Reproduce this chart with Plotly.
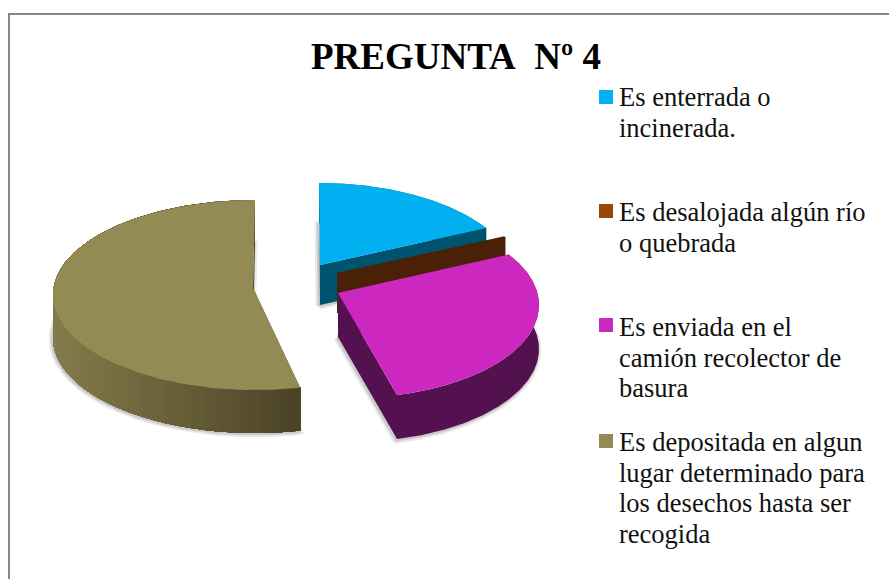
import numpy as np
import plotly.graph_objects as go

# ---- data (percent of answers) ----
categories = [
    "Es enterrada o<br>incinerada.",
    "Es desalojada algún río<br>o quebrada",
    "Es enviada en el<br>camión recolector de<br>basura",
    "Es depositada en algun<br>lugar determinado para<br>los desechos hasta ser<br>recogida",
]
values = [16, 1, 29, 54]
title_text = "PREGUNTA\u00a0 Nº 4"

top_colors = ["#00B0F0", "#4A2106", "#CC28C0", "#948A54"]
key_colors = ["#00B0F0", "#984807", "#CC28C0", "#948A54"]
side_left = ["#00536F", "#4A2106", "#53114F", "#857B4C"]
side_right = ["#00536F", "#4A2106", "#53114F", "#4A4225"]

# ---- drawing geometry (pixel space, one projected ellipse per exploded slice) ----
apex = [(320, 265), (337, 273), (338, 293), (253, 288)]
ell_c = [(319, 280), (337, 282), (350, 305), (255, 295)]
ell_r = [(198, 97), (192, 93), (189, 93), (202, 95)]
depth = [40, 40, 44, 43]
start_fix = [0, 3, -4, 1.5]
draw_order = [0, 1, 3, 2]
key_y = [97, 211, 325, 441]
first_line_y = [97, 212, 327, 442]
line_step = 30.7

cum = np.concatenate([[0], np.cumsum(values)]) / sum(values) * 360.0

fig = go.Figure()


def poly(xs, ys, color):
    fig.add_trace(go.Scatter(
        x=list(xs), y=list(ys), mode="lines", fill="toself",
        fillcolor=color, line=dict(color=color, width=0),
        hoverinfo="skip", showlegend=False))


def outline(xs, ys, color, width):
    fig.add_trace(go.Scatter(
        x=list(xs), y=list(ys), mode="lines",
        line=dict(color=color, width=width),
        hoverinfo="skip", showlegend=False))


def mix(a, b, t):
    ca = [int(a[i:i + 2], 16) for i in (1, 3, 5)]
    cb = [int(b[i:i + 2], 16) for i in (1, 3, 5)]
    return "rgb(%d,%d,%d)" % tuple(ca[k] + (cb[k] - ca[k]) * t for k in range(3))


for i in draw_order:
    th = np.radians(np.linspace(cum[i] + start_fix[i], cum[i + 1], 240))
    rx = ell_c[i][0] + ell_r[i][0] * np.sin(th)
    ry = ell_c[i][1] - ell_r[i][1] * np.cos(th)
    ax, ay = apex[i]
    d = depth[i]
    tx = np.concatenate([[ax], rx, [ax]])
    ty = np.concatenate([[ay], ry, [ay]])

    # soft shadow around the foot of the block
    if i != 1:
        outline(tx - 1, ty + d + 1, "rgba(90,90,90,0.12)", 7)
        outline(tx - 1, ty + d + 1, "rgba(90,90,90,0.22)", 3)

    # cut faces
    poly([ax, rx[0], rx[0], ax], [ay, ry[0], ry[0] + d, ay + d], side_right[i])
    poly([ax, rx[-1], rx[-1], ax], [ay, ry[-1], ry[-1] + d, ay + d], side_right[i])

    # rim: painted strip over strip from the dark end, so the shading has no seams
    xmin, xmax = rx.min(), rx.max()
    steps = 1 if side_left[i] == side_right[i] else 96
    for k in range(steps):
        end = len(th) - k * len(th) // steps
        xs, ys = rx[:end], ry[:end]
        t = (rx[end - 1] - xmin) / max(xmax - xmin, 1)
        c = mix(side_left[i], side_right[i], t)
        poly(np.concatenate([xs, xs[::-1]]), np.concatenate([ys, ys[::-1] + d]), c)

    # top face
    poly(tx, ty, top_colors[i])

# legend keys and labels
for name, col, yk, y0 in zip(categories, key_colors, key_y, first_line_y):
    fig.add_trace(go.Scatter(
        x=[606], y=[yk], mode="markers",
        marker=dict(symbol="square", size=14, color=col),
        name=name.replace("<br>", " "), hoverinfo="name", showlegend=False))
    for n, part in enumerate(name.split("<br>")):
        fig.add_annotation(
            x=618, y=y0 + n * line_step, xref="x", yref="y",
            xanchor="left", yanchor="middle",
            text=part, showarrow=False, align="left", borderpad=0,
            font=dict(family="Liberation Serif", size=26.5, color="#111111"))

fig.update_layout(
    width=889, height=579, margin=dict(l=0, r=0, t=0, b=0),
    paper_bgcolor="white", plot_bgcolor="white", showlegend=False,
    title=dict(text=title_text, x=456 / 889, xanchor="center", xref="paper",
               y=1 - 56 / 579, yanchor="middle", yref="paper",
               font=dict(family="Liberation Serif", size=37, color="#000000", weight="bold")),
    xaxis=dict(range=[0, 889], visible=False, fixedrange=True),
    yaxis=dict(range=[579, 0], visible=False, fixedrange=True),
    shapes=[dict(type="rect", xref="x", yref="y", x0=9, y0=14, x1=900, y1=600,
                 line=dict(color="#868686", width=2), layer="above")],
)

fig.write_html("out.html", config=dict(displayModeBar=False),
               post_script="document.body.style.margin='0';")
